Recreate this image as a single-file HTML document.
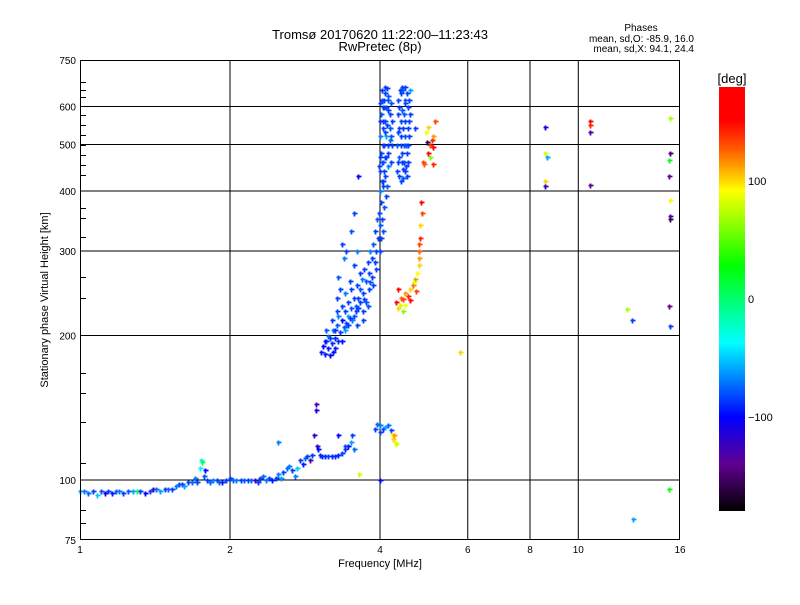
<!DOCTYPE html>
<html><head><meta charset="utf-8">
<style>
body{margin:0;background:#fff;}
svg text{font-family:"Liberation Sans",sans-serif;fill:#000;}
</style></head>
<body>
<svg id="chart" width="800" height="600" viewBox="0 0 800 600" xmlns="http://www.w3.org/2000/svg">
<rect x="0" y="0" width="800" height="600" fill="#fff"/>
<text x="380" y="39" font-size="13" text-anchor="middle">Tromsø 20170620 11:22:00–11:23:43</text>
<text x="380" y="51" font-size="13" text-anchor="middle">RwPretec (8p)</text>
<text x="641" y="31" font-size="10" text-anchor="middle">Phases</text>
<text x="694" y="42" font-size="10" text-anchor="end">mean, sd,O: -85.9, 16.0</text>
<text x="694" y="52" font-size="10" text-anchor="end">mean, sd,X:  94.1, 24.4</text>
<text transform="translate(48,300) rotate(-90)" font-size="11" text-anchor="middle">Stationary phase Virtual Height [km]</text>
<text x="380" y="567" font-size="11" text-anchor="middle">Frequency [MHz]</text>
<g id="grid"></g>
<g id="marks"></g>
<g id="axes"></g>
<defs>
<linearGradient id="cbg" x1="0" y1="1" x2="0" y2="0">
<stop offset="0" stop-color="#000"/>
<stop offset="0.11" stop-color="#600090"/>
<stop offset="0.222" stop-color="#0000ff"/>
<stop offset="0.397" stop-color="#00ffff"/>
<stop offset="0.578" stop-color="#00ff00"/>
<stop offset="0.756" stop-color="#ffff00"/>
<stop offset="0.85" stop-color="#ff6000"/>
<stop offset="0.92" stop-color="#ff0000"/>
<stop offset="1" stop-color="#ff0000"/>
</linearGradient>
</defs>
<rect x="719" y="87" width="26" height="424" fill="url(#cbg)"/>
<text x="732" y="83" font-size="13" text-anchor="middle">[deg]</text>
<g id="cbticks"></g>
</svg>
<script>
const xTicks = [1, 2, 4, 6, 8, 10, 16];
const xGrid = [2, 4, 6, 8, 10];
const yTicks = [75, 100, 200, 300, 400, 500, 600, 750];
const yGrid = [100, 200, 300, 400, 500, 600];
const cbTicks = [100, 0, -100];

const eLayer = [[1.0,95,-60],[1.02,95,-70],[1.04,94,-75],[1.06,95,-85],[1.08,93,-50],[1.1,95,-80],[1.12,94,-110],[1.14,95,-85],[1.16,94,-95],[1.18,95,-75],[1.2,95,-70],[1.22,94,-85],[1.25,95,-80],[1.28,95,-60],[1.3,95,5],[1.32,95,-85],[1.35,94,-100],[1.38,95,-85],[1.4,96,-130],[1.42,96,-75],[1.45,95,-60],[1.48,96,-85],[1.5,96,-75],[1.53,96,-85],[1.56,97,-70],[1.58,98,-80],[1.6,98,-85],[1.62,97,-60],[1.65,99,-85],[1.68,99,-75],[1.7,101,-70],[1.72,99,-85],[1.74,106,-40],[1.75,110,-40],[1.76,109,10],[1.77,102,-80],[1.78,105,-100],[1.8,100,-85],[1.82,99,-75],[1.85,100,-70],[1.88,100,-85],[1.9,99,-75],[1.93,99,-95],[1.96,100,-85],[2.0,101,-85],[2.03,100,-75],[2.06,100,-70],[2.1,100,-85],[2.13,100,-80],[2.17,100,-85],[2.2,100,-75],[2.24,100,-130],[2.28,99,-85],[2.3,101,-85],[2.33,102,-75],[2.36,100,-70],[2.4,101,-85],[2.43,100,-95],[2.47,101,-85],[2.5,103,-70],[2.53,101,-60],[2.56,104,-85],[2.6,106,-75],[2.63,107,-70],[2.66,105,-85],[2.7,102,-70],[2.73,106,-50],[2.76,110,-85],[2.8,108,-95],[2.83,111,-75],[2.86,112,-85],[2.9,110,-130],[2.92,113,-85],[2.95,124,-120],[2.97,140,-110],[2.98,144,-130],[2.99,118,-120],[3.0,116,-100],[3.03,113,-90],[3.06,112,-90],[3.1,112,-90],[3.15,112,-85],[3.2,112,-90],[3.25,112,-90],[3.3,113,-90],[3.35,114,-85],[3.4,116,-90],[3.45,118,-100],[3.5,120,-60],[3.52,124,-85],[3.55,116,-75],[3.4,118,-85],[3.3,124,-100],[2.5,120,-70],[3.63,103,80],[3.9,128,-85],[3.95,131,-75],[4.0,130,-70],[4.05,128,-85],[4.1,129,-60],[4.15,130,-75],[4.2,127,-85],[4.0,126,-85],[4.22,125,90],[4.25,122,100],[4.28,120,90],[4.3,119,80],[4.26,124,110],[4.0,100,-100]];

const fLower = [[3.05,185,-95],[3.08,190,-100],[3.1,183,-95],[3.12,195,-80],[3.15,188,-95],[3.15,200,-70],[3.18,182,-100],[3.2,193,-90],[3.22,205,-70],[3.25,198,-90],[3.25,188,-95],[3.28,210,-80],[3.3,195,-90],[3.3,220,-70],[3.33,203,-85],[3.35,215,-100],[3.35,230,-85],[3.38,208,-80],[3.4,225,-85],[3.4,245,-70],[3.42,212,-85],[3.45,235,-85],[3.45,220,-60],[3.48,260,-85],[3.5,228,-80],[3.5,250,-85],[3.52,215,-70],[3.55,240,-85],[3.55,280,-85],[3.58,230,-80],[3.6,255,-85],[3.6,300,-70],[3.62,240,-85],[3.65,250,-80],[3.65,270,-85],[3.68,262,-70],[3.7,245,-85],[3.72,275,-85],[3.75,260,-80],[3.78,285,-85],[3.8,270,-85],[3.82,300,-70],[3.85,290,-85],[3.88,310,-80],[3.9,330,-85],[3.92,300,-85],[3.95,350,-80],[3.28,240,-85],[3.3,265,-80],[3.32,250,-85],[3.38,290,-70],[3.42,300,-85],[3.36,310,-85],[3.5,330,-80],[3.55,360,-85],[3.62,430,-100],[3.2,215,-85],[3.12,205,-80],[3.6,210,-85],[3.7,225,-85],[3.75,235,-80],[3.8,250,-85],[3.85,265,-85],[3.7,215,-85],[3.78,230,-80],[3.88,255,-85],[3.92,275,-85],[3.18,198,-85],[3.22,185,-95],[3.4,205,-60],[3.48,218,-85],[3.58,225,-85],[3.65,235,-85],[3.25,205,-90],[3.35,195,-95],[3.45,210,-85],[3.55,220,-80],[3.62,228,-85],[3.72,238,-85],[3.82,258,-80],[3.9,285,-85],[3.1,195,-95],[3.28,225,-85]];

const fColumn1 = [[3.97,320,-85],[4.0,340,-80],[3.98,360,-85],[4.02,380,-85],[4.0,400,-70],[4.03,420,-85],[4.0,440,-85],[4.05,460,-80],[4.02,480,-85],[4.08,500,-85],[4.0,520,-70],[4.05,540,-85],[4.1,560,-85],[4.02,580,-80],[4.08,600,-85],[4.03,620,-85],[4.1,640,-85],[4.15,630,-80],[4.12,600,-85],[4.18,580,-85],[4.13,550,-85],[4.2,520,-80],[4.15,500,-85],[4.1,470,-85],[4.16,450,-70],[4.1,430,-85],[4.05,410,-85],[4.12,390,-85],[4.08,370,-80],[4.04,350,-85],[4.0,300,-85],[4.02,320,-85],[4.06,330,-80],[4.15,480,-85],[4.2,460,-85],[4.22,500,-85],[4.18,540,-80],[4.06,600,-85],[4.14,655,-85],[4.04,650,-85],[4.2,610,-80],[4.0,470,-85],[4.05,500,-85],[4.12,520,-60],[3.98,450,-85],[4.08,440,-85],[4.14,410,-80],[4.06,560,-85],[4.16,590,-85],[4.1,660,-85],[4.0,560,-90],[4.18,510,-75],[4.12,470,-85],[4.06,420,-85],[4.03,460,-80],[4.22,560,-85],[4.08,620,-85],[4.16,620,-80],[4.0,610,-85],[4.1,530,-85]];

const fColumn2 = [[4.37,430,-85],[4.4,420,-85],[4.45,425,-80],[4.5,440,-85],[4.55,460,-85],[4.53,480,-85],[4.47,500,-80],[4.4,520,-85],[4.37,540,-85],[4.41,560,-85],[4.47,580,-80],[4.55,600,-85],[4.57,620,-85],[4.53,640,-85],[4.45,650,-70],[4.4,640,-85],[4.35,620,-85],[4.37,600,-85],[4.43,590,-80],[4.5,560,-85],[4.55,540,-85],[4.57,520,-85],[4.51,500,-80],[4.43,480,-85],[4.35,460,-85],[4.33,440,-85],[4.37,470,-80],[4.45,445,-85],[4.53,430,-85],[4.6,650,-60],[4.5,610,-85],[4.41,500,-85],[4.33,500,-80],[4.47,460,-85],[4.55,500,-85],[4.35,580,-85],[4.6,580,-85],[4.5,660,-85],[4.42,660,-85],[4.45,540,-85],[4.5,520,-80],[4.42,460,-85],[4.58,560,-85],[4.38,650,-85],[4.48,620,-80],[4.35,530,-85],[4.52,450,-85]];

const xTrace = [[4.3,235,150],[4.35,228,100],[4.38,232,80],[4.4,240,120],[4.45,238,130],[4.5,245,110],[4.55,242,140],[4.6,250,100],[4.65,255,120],[4.7,262,110],[4.75,270,90],[4.78,280,100],[4.8,300,120],[4.82,320,140],[4.82,340,100],[4.85,360,130],[4.84,380,160],[4.35,250,170],[4.5,232,90],[4.45,225,60],[4.6,237,150],[4.68,258,80],[4.72,248,130],[4.9,455,120],[5.0,480,150],[5.05,500,130],[5.1,495,170],[5.08,510,140],[5.12,520,110],[5.0,545,100],[5.15,560,130],[4.95,530,90],[5.05,470,60],[5.1,455,140],[4.88,460,130],[4.98,505,-160],[4.7,540,-85],[5.79,185,100],[4.78,290,110],[4.8,310,130]];

const scattered = [[8.57,543,-110],[8.57,480,80],[8.65,470,-60],[8.57,420,100],[8.57,410,-120],[10.56,560,170],[10.56,550,140],[10.56,530,-130],[10.56,412,-140],[12.5,227,70],[12.8,215,-85],[12.9,83,-60],[15.3,568,70],[15.3,480,-150],[15.2,465,20],[15.2,430,-140],[15.3,383,90],[15.3,355,-130],[15.3,350,-160],[15.2,230,-140],[15.3,209,-85],[15.2,96,30]];

const X0 = 80, X1 = 680, Y0 = 540, Y1 = 60;
function xScale(f){ return X0 + (X1 - X0) * Math.log2(f) / Math.log2(16); }
function yScale(h){ return Y0 - (Y0 - Y1) * Math.log10(h / 75) / Math.log10(10); }
const stops = [[-180,[0,0,0]],[-140,[96,0,144]],[-100,[0,0,255]],[-37,[0,255,255]],[28,[0,255,0]],[92,[255,255,0]],[120,[255,96,0]],[150,[255,0,0]],[180,[255,0,0]]];
function phaseColor(p){
  p = Math.max(-180, Math.min(180, p));
  for (let i = 0; i < stops.length - 1; i++) {
    const a = stops[i], b = stops[i+1];
    if (p <= b[0]) {
      const t = (p - a[0]) / (b[0] - a[0]);
      const c = a[1].map((v, k) => Math.round(v + (b[1][k] - v) * t));
      return 'rgb(' + c.join(',') + ')';
    }
  }
  return 'red';
}
const NS = 'http://www.w3.org/2000/svg';
function mk(tag, attrs, parent){
  const el = document.createElementNS(NS, tag);
  for (const k in attrs) el.setAttribute(k, attrs[k]);
  parent.appendChild(el);
  return el;
}
const grid = document.getElementById('grid');
xGrid.forEach(v => {
  const l = mk('line', {x1: xScale(v), x2: xScale(v), y1: Y1, y2: Y0, stroke: '#000', 'stroke-width': 1}, grid);
  
  
});
yGrid.forEach(v => {
  const l = mk('line', {x1: X0, x2: X1, y1: yScale(v), y2: yScale(v), stroke: '#000', 'stroke-width': 1}, grid);
  
  
});
const marks = document.getElementById('marks');
const series = [['e-layer-point', eLayer], ['f-lower-point', fLower], ['f-column1-point', fColumn1], ['f-column2-point', fColumn2], ['x-trace-point', xTrace], ['scattered-point', scattered]];
series.forEach(([name, arr]) => {
  arr.forEach(d => {
    const x = Math.round(xScale(d[0])) + 0.5, y = Math.round(yScale(d[1])) + 0.5;
    const p = mk('path', {d: 'M' + (x-2) + ' ' + y + 'H' + (x+3) + 'M' + x + ' ' + (y-2) + 'V' + (y+3), stroke: phaseColor(d[2]), 'stroke-width': 1.8}, marks);
    
    
  });
});
const axes = document.getElementById('axes');
const frame = mk('rect', {x: X0 + 0.5, y: Y1 + 0.5, width: X1 - X0 - 1, height: Y0 - Y1 - 1, fill: 'none', stroke: '#000', 'stroke-width': 1}, axes);


xTicks.forEach(v => {
  const t = mk('text', {x: xScale(v), y: 553, 'font-size': 10, 'text-anchor': 'middle'}, axes);
  t.textContent = v;
  
  
});
yTicks.forEach(v => {
  const t = mk('text', {x: 76, y: yScale(v) + 4, 'font-size': 10, 'text-anchor': 'end'}, axes);
  t.textContent = v;
  
  
});
const minorPx = [82,90,97,115,125,135,145,155,165,175,208,218,237,277,298,373,393,422,463,510,523];
minorPx.forEach(y => {
  const l = mk('line', {x1: X0, x2: X0 + 6, y1: y + 0.5, y2: y + 0.5, stroke: '#000'}, axes);
  
  
});
const cb = document.getElementById('cbticks');
cbTicks.forEach(v => {
  const y = 511 - (v + 180) / 360 * 424;
  const t = mk('text', {x: 748, y: y + 4, 'font-size': 11}, cb);
  t.textContent = v === -100 ? '−100' : v;
  
  
});
</script>
</body></html>
